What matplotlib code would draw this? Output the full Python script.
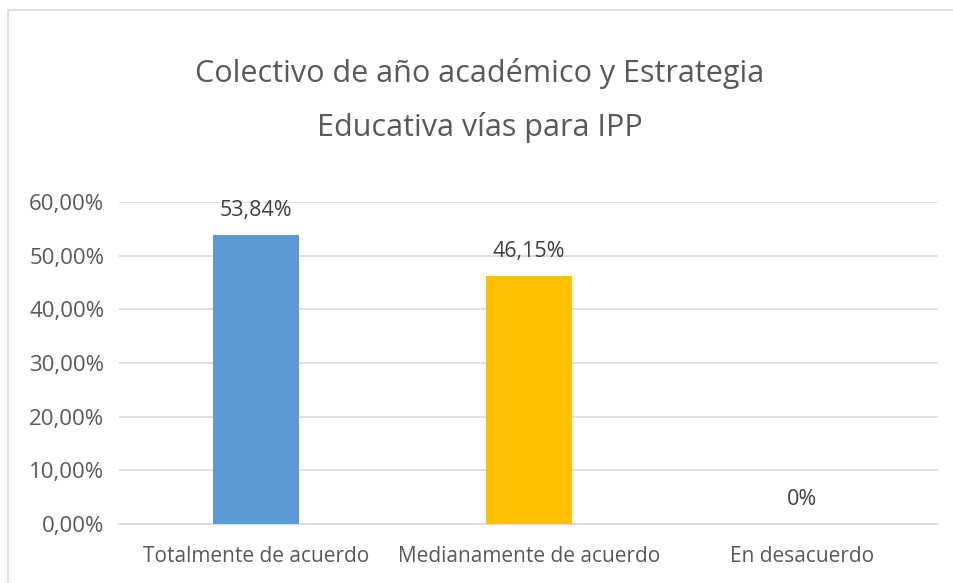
import matplotlib
matplotlib.use("Agg")
import matplotlib.pyplot as plt
from matplotlib.patches import Rectangle
from matplotlib.ticker import FuncFormatter

categories = ["Totalmente de acuerdo", "Medianamente de acuerdo", "En desacuerdo"]
values = [0.5384, 0.4615, 0.0]
value_labels = ["53,84%", "46,15%", "0%"]
colors = ["#5B9BD5", "#FFC000", "#A5A5A5"]
yticks = [0, 0.1, 0.2, 0.3, 0.4, 0.5, 0.6]
title = "Colectivo de año académico y Estrategia\nEducativa vías para IPP"

W, H = 954, 583
plt.rcParams['font.family'] = ['Open Sans', 'DejaVu Sans']
fig = plt.figure(figsize=(W / 100, H / 100), dpi=100)
fig.patch.set_facecolor("white")

# outer chart border
fig.add_artist(Rectangle((8 / W, -0.1), (W + 20) / W, (H - 10) / H + 0.1,
                         transform=fig.transFigure, fill=False,
                         edgecolor="#D9D9D9", linewidth=1.2))

ax_l, ax_r = 119.5, 938.5
ax_b, ax_t = 524, 202
ax = fig.add_axes([ax_l / W, 1 - ax_b / H, (ax_r - ax_l) / W, (ax_b - ax_t) / H])

x = list(range(len(categories)))
ax.bar(x, values, width=0.315, color=colors, zorder=3)
ax.set_xlim(-0.5, len(categories) - 0.5)
ax.set_ylim(0, 0.6)
ax.set_yticks(yticks)
ax.yaxis.set_major_formatter(FuncFormatter(lambda v, p: f"{v*100:.2f}%".replace(".", ",")))
ax.set_xticks(x)
ax.set_xticklabels(categories)
ax.tick_params(axis="both", length=0, colors="#595959")
ax.tick_params(axis="x", pad=16, labelsize=15)
ax.tick_params(axis="y", pad=11, labelsize=16)
ax.grid(axis="y", color="#D9D9D9", linewidth=1.2, zorder=0)
for s in ["top", "right", "left"]:
    ax.spines[s].set_visible(False)
ax.spines["bottom"].set_color("#D9D9D9")
ax.spines["bottom"].set_linewidth(1.2)

for xi, v, lab in zip(x, values, value_labels):
    ax.annotate(lab, (xi, v), xytext=(0, 10), textcoords="offset points",
                ha="center", va="bottom", fontsize=15.5, color="#404040")

fig.text(480 / W, 1 - 100.5 / H, title, ha="center", va="center",
         fontsize=22, color="#595959", linespacing=1.95)

fig.savefig("out.png", dpi=100, facecolor="white")
